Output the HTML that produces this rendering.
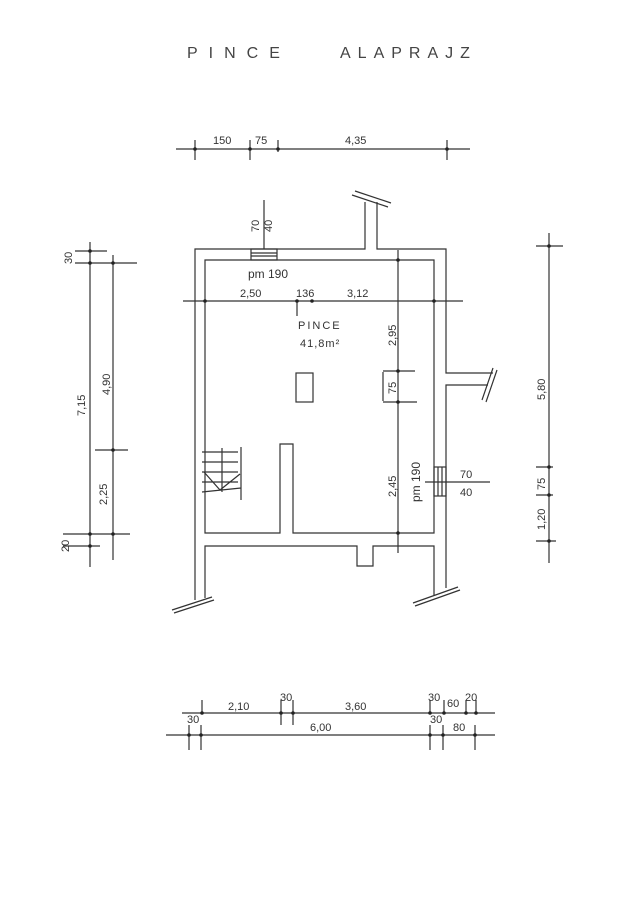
<!DOCTYPE html>
<html><head><meta charset="utf-8"><style>
html,body{margin:0;padding:0;background:#fff;}
svg{display:block}
text{font-family:"Liberation Sans",sans-serif;fill:#333;font-size:11px}
</style></head><body>
<svg width="630" height="904" viewBox="0 0 630 904" xmlns="http://www.w3.org/2000/svg">
<g stroke="#333" stroke-width="1.2" fill="none">
<path d="M195,600 V249 H365 V202 M377,202 V249 H446 V373 H493 M488,385 H446 V588"/>
<path d="M205,598 V546 H357 V566 H373 V546 H434 V595"/>
<path d="M205,533 V260 H434 V533 H293 V444 H280 V533 Z"/>
<path d="M352,195 L388,207 M355,191 L391,203"/>
<path d="M493,368 L482,400 M497,370 L486,402"/>
<path d="M172,610 L212,597 M174,613 L214,600"/>
<path d="M413,603 L458,587 M415,606 L460,590"/>
<rect x="251" y="249" width="26" height="11"/>
<path d="M251,253 H277 M251,256 H277"/>
<line x1="264" y1="200" x2="264" y2="249"/>
<rect x="434" y="467" width="12" height="29"/>
<path d="M438,467 V496 M442,467 V496"/>
<line x1="425" y1="482" x2="490" y2="482"/>
<rect x="296" y="373" width="17" height="29"/>
<path d="M202,452 H238 M202,462 H238 M202,472 H238 M202,482 H238 M202,492 L241,488 M204,472 L220,490 L240,474 M241,447 V500 M222,448 V492"/>
<line x1="183" y1="301" x2="463" y2="301"/>
<line x1="297" y1="301" x2="297" y2="316"/>
<line x1="398" y1="250" x2="398" y2="553"/>
<line x1="383" y1="371" x2="415" y2="371"/>
<line x1="383" y1="402" x2="417" y2="402"/>
<line x1="383" y1="372" x2="383" y2="401"/>
<line x1="90" y1="242" x2="90" y2="567"/>
<line x1="113" y1="255" x2="113" y2="560"/>
<line x1="75" y1="263" x2="137" y2="263"/>
<line x1="75" y1="251" x2="107" y2="251"/>
<line x1="95" y1="450" x2="128" y2="450"/>
<line x1="63" y1="534" x2="130" y2="534"/>
<line x1="63" y1="546" x2="100" y2="546"/>
<line x1="549" y1="233" x2="549" y2="563"/>
<line x1="536" y1="246" x2="563" y2="246"/>
<line x1="536" y1="467" x2="553" y2="467"/>
<line x1="536" y1="495" x2="553" y2="495"/>
<line x1="536" y1="541" x2="556" y2="541"/>
<line x1="176" y1="149" x2="470" y2="149"/>
<path d="M195,140 V160 M250,140 V160 M278,140 V152 M447,140 V160"/>
<line x1="182" y1="713" x2="495" y2="713"/>
<line x1="166" y1="735" x2="495" y2="735"/>
<path d="M202,700 V713 M281,700 V725 M293,700 V725 M430,700 V713 M444,700 V713 M466,700 V713 M476,700 V713"/>
<path d="M189,725 V750 M201,725 V750 M430,725 V750 M443,725 V750 M475,725 V750"/>
</g>
<g fill="#222">
<circle cx="205" cy="301" r="1.8"/><circle cx="297" cy="301" r="1.8"/><circle cx="312" cy="301" r="1.8"/><circle cx="434" cy="301" r="1.8"/>
<circle cx="398" cy="260" r="1.8"/><circle cx="398" cy="371" r="1.8"/><circle cx="398" cy="402" r="1.8"/><circle cx="398" cy="533" r="1.8"/>
<circle cx="90" cy="263" r="1.8"/><circle cx="113" cy="263" r="1.8"/><circle cx="113" cy="450" r="1.8"/><circle cx="90" cy="534" r="1.8"/><circle cx="113" cy="534" r="1.8"/><circle cx="90" cy="546" r="1.8"/><circle cx="90" cy="251" r="1.8"/>
<circle cx="549" cy="246" r="1.8"/><circle cx="549" cy="467" r="1.8"/><circle cx="549" cy="495" r="1.8"/><circle cx="549" cy="541" r="1.8"/>
<circle cx="195" cy="149" r="1.8"/><circle cx="250" cy="149" r="1.8"/><circle cx="278" cy="149" r="1.8"/><circle cx="447" cy="149" r="1.8"/>
<circle cx="202" cy="713" r="1.8"/><circle cx="281" cy="713" r="1.8"/><circle cx="293" cy="713" r="1.8"/><circle cx="430" cy="713" r="1.8"/><circle cx="444" cy="713" r="1.8"/><circle cx="466" cy="713" r="1.8"/><circle cx="476" cy="713" r="1.8"/>
<circle cx="189" cy="735" r="1.8"/><circle cx="201" cy="735" r="1.8"/><circle cx="430" cy="735" r="1.8"/><circle cx="443" cy="735" r="1.8"/><circle cx="475" cy="735" r="1.8"/>
</g>
<text x="187" y="58" style="font-size:16px;letter-spacing:11px;fill:#444">PINCE</text>
<text x="340" y="58" style="font-size:16px;letter-spacing:7px;fill:#444">ALAPRAJZ</text>
<text x="213" y="144">150</text><text x="255" y="144">75</text><text x="345" y="144">4,35</text>
<text x="248" y="278" style="font-size:12px">pm 190</text>
<text x="240" y="297">2,50</text><text x="296" y="297">136</text><text x="347" y="297">3,12</text>
<text x="298" y="329" style="letter-spacing:2px">PINCE</text>
<text x="300" y="347" style="letter-spacing:1px">41,8m²</text>
<text x="460" y="478">70</text><text x="460" y="496">40</text>
<text transform="translate(259,232) rotate(-90)">70</text>
<text transform="translate(272,232) rotate(-90)">40</text>
<text transform="translate(396,346) rotate(-90)">2,95</text>
<text transform="translate(396,394) rotate(-90)">75</text>
<text transform="translate(396,497) rotate(-90)">2,45</text>
<text transform="translate(420,502) rotate(-90)" style="font-size:12px">pm 190</text>
<text transform="translate(72,264) rotate(-90)">30</text>
<text transform="translate(85,416) rotate(-90)">7,15</text>
<text transform="translate(110,395) rotate(-90)">4,90</text>
<text transform="translate(107,505) rotate(-90)">2,25</text>
<text transform="translate(69,552) rotate(-90)">20</text>
<text transform="translate(545,400) rotate(-90)">5,80</text>
<text transform="translate(545,490) rotate(-90)">75</text>
<text transform="translate(545,530) rotate(-90)">1,20</text>
<text x="228" y="710">2,10</text><text x="280" y="701">30</text><text x="345" y="710">3,60</text>
<text x="428" y="701">30</text><text x="447" y="707">60</text><text x="465" y="701">20</text>
<text x="187" y="723">30</text><text x="310" y="731">6,00</text><text x="430" y="723">30</text><text x="453" y="731">80</text>
</svg>
</body></html>
